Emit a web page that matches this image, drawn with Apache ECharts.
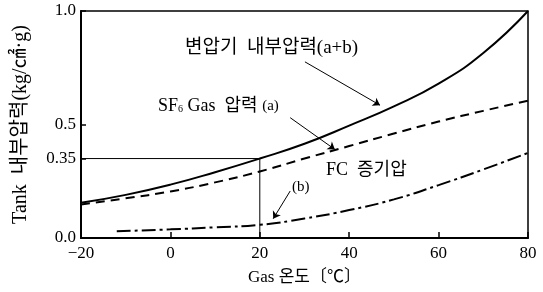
<!DOCTYPE html>
<html>
<head>
<meta charset="utf-8">
<script src="https://cdn.jsdelivr.net/npm/echarts@6/dist/echarts.min.js"></script>
<style>
  html, body { margin: 0; padding: 0; background: #fff; }
  #main { width: 543px; height: 292px; }
</style>
</head>
<body>
<div id="main"></div>
<script>
var dom = document.getElementById("main");
var myChart = echarts.init(dom);

var FONT = "'Liberation Serif', 'Noto Sans CJK KR', serif";

// 온도 (℃)
var temps = [-20, -10, 0, 10, 20, 30, 40, 50, 60, 70, 80];
// 변압기 내부압력 (a+b)
var totalP = [0.155, 0.19, 0.235, 0.29, 0.35, 0.415, 0.495, 0.58, 0.68, 0.815, 1.0];
// SF6 Gas 압력 (a)
var sf6P = [0.148, 0.175, 0.205, 0.245, 0.293, 0.35, 0.405, 0.46, 0.513, 0.56, 0.605];
// FC 증기압 (b)
var fcTemps = [-12, 0, 10, 20, 30, 40, 50, 60, 70, 80];
var fcP = [0.03, 0.038, 0.047, 0.058, 0.086, 0.123, 0.17, 0.233, 0.302, 0.375];

var yTicks = [0, 0.35, 0.5, 1.0];
var guide = [[-20, 0.35], [20, 0.35], [20, 0]];

// 지시선 (시작점 -> 곡선)
var arrows = [
    [[30.1, 0.776], [46.9, 0.585]],
    [[26.8, 0.53], [36.8, 0.39]],
    [[26.8, 0.207], [23.0, 0.085]]
];

function pairs(xArr, yArr) {
    var out = [];
    for (var i = 0; i < xArr.length; i++) {
        out.push([xArr[i], yArr[i]]);
    }
    return out;
}

var option = {
    animation: false,
    grid: {
        left: 81, right: 15, top: 11, bottom: 54,
        show: true,
        borderColor: '#000',
        borderWidth: 1.5
    },
    xAxis: {
        type: 'value',
        min: -20, max: 80, interval: 20,
        name: 'Gas 온도〔℃〕',
        nameLocation: 'middle',
        nameGap: 31,
        nameTextStyle: { color: '#000', fontSize: 17, fontFamily: FONT },
        axisLine: { show: true, onZero: false, lineStyle: { color: '#000', width: 2 } },
        axisTick: { show: true, inside: true, length: 6, lineStyle: { color: '#000', width: 1.5 } },
        splitLine: { show: false },
        axisLabel: {
            color: '#000', fontSize: 17, fontFamily: FONT, margin: 7,
            formatter: function (v) { return String(v).replace('-', '−'); }
        }
    },
    yAxis: {
        type: 'value',
        min: 0, max: 1.0,
        name: 'Tank  내부압력(kg/㎠·g)',
        nameLocation: 'middle',
        nameGap: 50,
        nameTextStyle: { color: '#000', fontSize: 20, fontFamily: FONT },
        axisLine: { show: true, onZero: false, lineStyle: { color: '#000', width: 2 } },
        axisTick: { show: true, inside: true, length: 5, customValues: yTicks, lineStyle: { color: '#000', width: 1.5 } },
        splitLine: { show: false },
        axisLabel: {
            color: '#000', fontSize: 17, fontFamily: FONT, margin: 5,
            customValues: yTicks,
            formatter: function (v) { return v === 0.35 ? '0.35' : v.toFixed(1); }
        }
    },
    graphic: [
        { type: 'text', left: 185, top: 39, style: { text: '변압기  내부압력(a+b)', font: '19px ' + FONT, fill: '#000' } },
        {
            type: 'text', left: 158, top: 97,
            style: {
                text: '{b|SF}{s|6}{b| Gas  압력 }{m|(a)}',
                rich: {
                    b: { font: '18px ' + FONT, fill: '#000' },
                    s: { font: '10px ' + FONT, fill: '#000', padding: [7, 0, 0, 0] },
                    m: { font: '15px ' + FONT, fill: '#000' }
                }
            }
        },
        { type: 'text', left: 326, top: 161, style: { text: 'FC  증기압', font: '18px ' + FONT, fill: '#000' } },
        { type: 'text', left: 292, top: 180, style: { text: '(b)', font: '15px ' + FONT, fill: '#000' } }
    ],
    series: [
        {
            name: '변압기 내부압력(a+b)',
            type: 'line',
            smooth: true,
            symbol: 'none',
            lineStyle: { color: '#000', width: 2 },
            data: pairs(temps, totalP)
        },
        {
            name: 'SF6 Gas 압력(a)',
            type: 'line',
            smooth: true,
            symbol: 'none',
            lineStyle: { color: '#000', width: 2, type: [9, 6] },
            data: pairs(temps, sf6P)
        },
        {
            name: 'FC 증기압(b)',
            type: 'line',
            smooth: true,
            symbol: 'none',
            lineStyle: { color: '#000', width: 2, type: [14, 4, 3, 4] },
            data: pairs(fcTemps, fcP)
        },
        {
            name: 'guide',
            type: 'line',
            symbol: 'none',
            lineStyle: { color: '#000', width: 1 },
            data: guide,
            markLine: {
                silent: true,
                symbol: ['none', 'arrow'],
                symbolSize: 7,
                label: { show: false },
                lineStyle: { color: '#000', width: 1, type: 'solid' },
                data: arrows.map(function (a) {
                    return [{ coord: a[0] }, { coord: a[1] }];
                })
            }
        }
    ]
};

if (option && typeof option === "object") {
    myChart.setOption(option, true);
}
</script>
</body>
</html>
